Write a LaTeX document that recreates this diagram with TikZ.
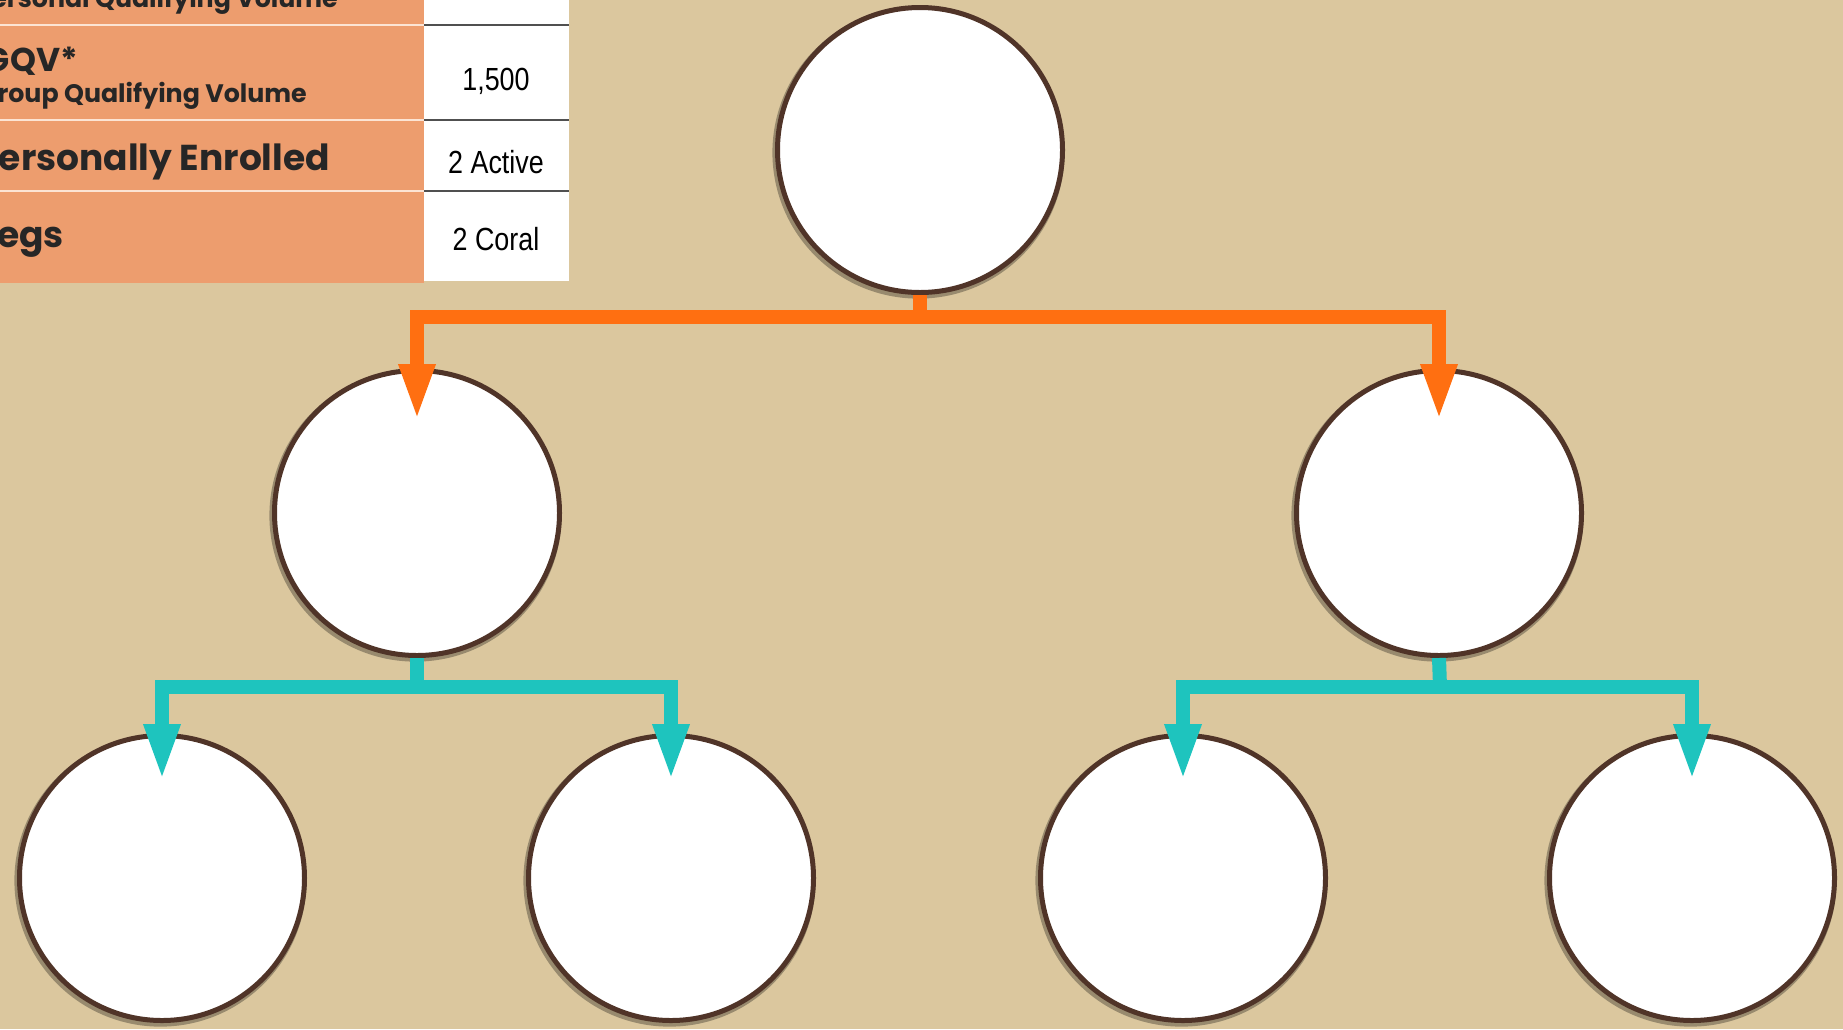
\documentclass[tikz,border=0pt]{standalone}
\usepackage{fontspec}
\usepackage{graphicx}
\usetikzlibrary{arrows.meta,shadows}
\newfontfamily\headfont{Poppins}
\newfontfamily\cellfont{Liberation Sans}
\definecolor{bgtan}{RGB}{219,199,158}
\definecolor{tableorange}{RGB}{237,157,110}
\definecolor{rowlight}{RGB}{252,228,212}
\definecolor{rowdark}{RGB}{80,80,80}
\definecolor{ringbrown}{RGB}{80,52,40}
\definecolor{linkorange}{RGB}{255,111,17}
\definecolor{linkteal}{RGB}{30,196,190}

\begin{document}
\begin{tikzpicture}[x=1pt,y=-1pt,
    member/.style={circle,draw=ringbrown,line width=5pt,fill=white,minimum size=285pt,inner sep=0pt,
        drop shadow={shadow xshift=-1.5pt,shadow yshift=-2.5pt,shadow scale=1.025,opacity=.3,fill=black}},
    link/.style={line width=14pt,line join=miter,>={Triangle[width=33pt,length=57pt]},
        preaction={draw=black,opacity=.18,transform canvas={shift={(1pt,-2.5pt)}}}},
    rowtext/.style={inner sep=0pt,font=\headfont\bfseries,text=black!85,anchor=base east},
    celltext/.style={inner sep=0pt,font=\cellfont,anchor=base}]
        \useasboundingbox (0,0) rectangle (1843,1029);
        \fill[bgtan] (0,0) rectangle (1843,1029);

        % table
        \fill[tableorange] (0,0) rectangle (424,283);
        \fill[white] (424,0) rectangle (569,281);
        \foreach \y in {25,120,191}{
            \draw[line width=2pt,rowlight] (0,\y)--(424,\y);
            \draw[line width=2.5pt,rowdark] (424,\y)--(569,\y);
        }
        \begin{scope}
            \clip (0,0) rectangle (424,283);
            \node[rowtext,font=\headfont\bfseries\fontsize{25.3}{27}\selectfont] (pqv) at (338,7) {ersonal Qualifying Volume};
            \node[rowtext,font=\headfont\bfseries\fontsize{33}{36}\selectfont] (gqv) at (78,71) {GQV*};
            \node[rowtext,font=\headfont\bfseries\fontsize{25.3}{27}\selectfont] (gqvname) at (307,102) {roup Qualifying Volume};
            \node[rowtext,font=\headfont\bfseries\fontsize{36}{40}\selectfont] (enrolled) at (330,170) {ersonally Enrolled};
            \node[rowtext,font=\headfont\bfseries\fontsize{36}{40}\selectfont] (legs) at (64,247) {egs};
        \end{scope}
        \node[celltext] (gqvval) at (496,90) {\fontsize{32}{34}\selectfont\scalebox{0.84}[1]{1,500}};
        \node[celltext] (enrolledval) at (496,173) {\fontsize{32}{34}\selectfont\scalebox{0.84}[1]{2 Active}};
        \node[celltext] (legsval) at (496,250) {\fontsize{32}{34}\selectfont\scalebox{0.84}[1]{2 Coral}};

        % tree
        \node[member] (root) at (920,150) {};
        \node[member] (m1) at (417,513) {};
        \node[member] (m2) at (1439,513) {};
        \node[member] (b1) at (162,878) {};
        \node[member] (b2) at (671,878) {};
        \node[member] (b3) at (1183,878) {};
        \node[member] (b4) at (1692,878) {};

        \coordinate (ob) at (920,317);
        \coordinate (tb1) at (417,687);
        \coordinate (tb2) at (1440,687);

        \draw[link,linkorange] (root.south)--(ob);
        \draw[link,linkorange,<->] ([yshift=-53pt]m1.north) |- (ob) -| ([yshift=-53pt]m2.north);

        \draw[link,linkteal] (m1.south)--(tb1);
        \draw[link,linkteal,<->] ([yshift=-48pt]b1.north) |- (tb1) -| ([yshift=-48pt]b2.north);
        \draw[link,linkteal] (m2.south)--(tb2);
        \draw[link,linkteal,<->] ([yshift=-48pt]b3.north) |- (tb2) -| ([yshift=-48pt]b4.north);
\end{tikzpicture}
\end{document}
